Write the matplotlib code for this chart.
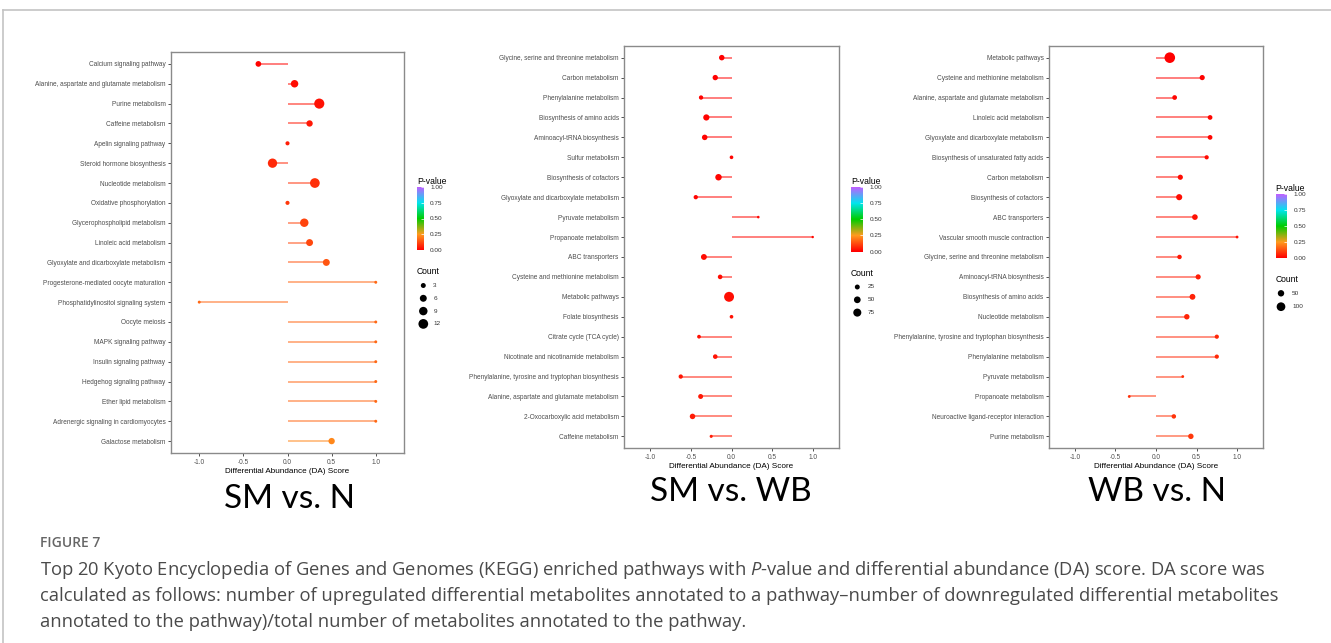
"""KEGG enrichment lollipop panels (DA score vs pathway)."""
import numpy as np
import matplotlib
matplotlib.use('Agg')
import matplotlib.pyplot as plt
from matplotlib.colors import LinearSegmentedColormap, Normalize
from matplotlib.cm import ScalarMappable
from matplotlib.lines import Line2D

plt.rcParams['font.family'] = ['Liberation Sans', 'DejaVu Sans']
plt.rcParams['mathtext.fontset'] = 'custom'
plt.rcParams['mathtext.it'] = 'Open Sans:italic'
plt.rcParams['mathtext.rm'] = 'Open Sans'

DPI = 100
W, H = 1331, 643

# ---- SM vs. N ----
sm_n_paths = ['Calcium signaling pathway', 'Alanine, aspartate and glutamate metabolism',
              'Purine metabolism', 'Caffeine metabolism', 'Apelin signaling pathway',
              'Steroid hormone biosynthesis', 'Nucleotide metabolism',
              'Oxidative phosphorylation', 'Glycerophospholipid metabolism',
              'Linoleic acid metabolism', 'Glyoxylate and dicarboxylate metabolism',
              'Progesterone-mediated oocyte maturation', 'Phosphatidylinositol signaling system',
              'Oocyte meiosis', 'MAPK signaling pathway', 'Insulin signaling pathway',
              'Hedgehog signaling pathway', 'Ether lipid metabolism',
              'Adrenergic signaling in cardiomyocytes', 'Galactose metabolism']
sm_n_da = [-0.33, 0.08, 0.36, 0.25, 0.0, -0.17, 0.31, 0.0, 0.19, 0.25,
           0.44, 1.0, -1.0, 1.0, 1.0, 1.0, 1.0, 1.0, 1.0, 0.5]
sm_n_count = [4, 7, 13, 5, 2, 11, 12, 2, 9, 6, 6, 1, 1, 1, 1, 1, 1, 1, 1, 5]
sm_n_p = [0.005, 0.02, 0.03, 0.04, 0.05, 0.07, 0.08, 0.09, 0.11, 0.12,
          0.14, 0.17, 0.17, 0.17, 0.17, 0.17, 0.17, 0.17, 0.17, 0.22]
sm_n_keys = [3, 6, 9, 12]

# ---- SM vs. WB ----
sm_wb_paths = ['Glycine, serine and threonine metabolism', 'Carbon metabolism',
               'Phenylalanine metabolism', 'Biosynthesis of amino acids',
               'Aminoacyl-tRNA biosynthesis', 'Sulfur metabolism', 'Biosynthesis of cofactors',
               'Glyoxylate and dicarboxylate metabolism', 'Pyruvate metabolism',
               'Propanoate metabolism', 'ABC transporters', 'Cysteine and methionine metabolism',
               'Metabolic pathways', 'Folate biosynthesis', 'Citrate cycle (TCA cycle)',
               'Nicotinate and nicotinamide metabolism',
               'Phenylalanine, tyrosine and tryptophan biosynthesis',
               'Alanine, aspartate and glutamate metabolism', '2-Oxocarboxylic acid metabolism',
               'Caffeine metabolism']
sm_wb_da = [-0.12, -0.2, -0.375, -0.31, -0.33, 0.0, -0.16, -0.44, 0.33, 1.0,
            -0.34, -0.14, -0.03, 0.0, -0.4, -0.2, -0.625, -0.38, -0.48, -0.25]
sm_wb_count = [32, 30, 18, 42, 32, 12, 46, 18, 5, 4, 37, 21, 118, 12, 13, 21, 18, 25, 32, 8]
sm_wb_p = [0.001, 0.002, 0.004, 0.005, 0.006, 0.008, 0.009, 0.01, 0.012, 0.015,
           0.02, 0.022, 0.025, 0.028, 0.03, 0.033, 0.036, 0.04, 0.045, 0.05]
sm_wb_keys = [25, 50, 75]

# ---- WB vs. N ----
wb_n_paths = ['Metabolic pathways', 'Cysteine and methionine metabolism',
              'Alanine, aspartate and glutamate metabolism', 'Linoleic acid metabolism',
              'Glyoxylate and dicarboxylate metabolism', 'Biosynthesis of unsaturated fatty acids',
              'Carbon metabolism', 'Biosynthesis of cofactors', 'ABC transporters',
              'Vascular smooth muscle contraction', 'Glycine, serine and threonine metabolism',
              'Aminoacyl-tRNA biosynthesis', 'Biosynthesis of amino acids',
              'Nucleotide metabolism', 'Phenylalanine, tyrosine and tryptophan biosynthesis',
              'Phenylalanine metabolism', 'Pyruvate metabolism', 'Propanoate metabolism',
              'Neuroactive ligand-receptor interaction', 'Purine metabolism']
wb_n_da = [0.17, 0.57, 0.23, 0.667, 0.667, 0.625, 0.3, 0.286, 0.48, 1.0,
           0.29, 0.52, 0.45, 0.38, 0.75, 0.75, 0.33, -0.33, 0.22, 0.43]
wb_n_count = [155, 30, 24, 24, 24, 18, 30, 45, 37, 6, 21, 30, 40, 34, 18, 18, 6, 6, 21, 34]
wb_n_p = [0.001, 0.005, 0.01, 0.012, 0.014, 0.016, 0.02, 0.025, 0.03, 0.035,
          0.04, 0.05, 0.055, 0.06, 0.065, 0.07, 0.075, 0.08, 0.085, 0.09]
wb_n_keys = [50, 100]

cb_ticks = [0.0, 0.25, 0.5, 0.75, 1.0]
x_ticks = [-1.0, -0.5, 0.0, 0.5, 1.0]

pcmap = LinearSegmentedColormap.from_list('pval', [
    (0.0, '#FF0000'), (0.25, '#FF9A1E'), (0.5, '#00CC00'),
    (0.75, '#00E5EE'), (1.0, '#BF5FFF')])
norm = Normalize(0, 1)


def dot_area(count, a, b):
    d_px = a + b * np.sqrt(np.asarray(count, float))
    return (d_px * 72 / DPI) ** 2


def fbox(l, t, r, b):
    return [l / W, 1 - b / H, (r - l) / W, (b - t) / H]


PANELS = [
    dict(title='SM vs. N', paths=sm_n_paths, da=sm_n_da, count=sm_n_count, p=sm_n_p,
         keys=sm_n_keys, size=(0.2, 2.75), ax_px=(171, 52, 404, 453),
         cb_px=(417, 187, 424, 250), cnt_px=(417, 265, (6.3, 16.3), 13.5, 12.8),
         title_xy=(289, 499)),
    dict(title='SM vs. WB', paths=sm_wb_paths, da=sm_wb_da, count=sm_wb_count, p=sm_wb_p,
         keys=sm_wb_keys, size=(0.7, 0.85), ax_px=(624.3, 45.7, 838.7, 448.3),
         cb_px=(851, 187, 863, 251.5), cnt_px=(851, 266, (6.3, 17), 14, 12.8),
         title_xy=(731, 492)),
    dict(title='WB vs. N', paths=wb_n_paths, da=wb_n_da, count=wb_n_count, p=wb_n_p,
         keys=wb_n_keys, size=(0.9, 0.78), ax_px=(1049, 45.7, 1263, 448.3),
         cb_px=(1275.7, 194, 1287.3, 258), cnt_px=(1275.7, 272, (5.3, 16.3), 14.3, 13.4),
         title_xy=(1157, 492)),
]

fig = plt.figure(figsize=(W / DPI, H / DPI), dpi=DPI)

for pn in PANELS:
    ax = fig.add_axes(fbox(*pn['ax_px']))
    n = len(pn['paths'])
    y = np.arange(n)[::-1] + 1
    cols = pcmap(norm(pn['p']))
    ax.hlines(y, 0, pn['da'], colors=cols, alpha=0.55, lw=1.3, zorder=2)
    ax.scatter(pn['da'], y, s=dot_area(pn['count'], *pn['size']), c=cols,
               edgecolors='none', zorder=3)
    ax.set_xlim(-1.32, 1.32)
    ax.set_ylim(0.4, n + 0.6)
    ax.set_yticks(y)
    ax.set_yticklabels(pn['paths'])
    ax.set_xticks(x_ticks)
    ax.set_xticklabels(['%.1f' % v for v in x_ticks])
    ax.tick_params(labelsize=4.7, labelcolor='#4d4d4d', length=2.5, width=0.6,
                   color='#333333', pad=1.5)
    ax.set_xlabel('Differential Abundance (DA) Score', fontsize=5.9, labelpad=1.5)
    for sp in ax.spines.values():
        sp.set_color('#8a8a8a')
        sp.set_linewidth(1.0)

    # colour bar
    cax = fig.add_axes(fbox(*pn['cb_px']))
    cb = fig.colorbar(ScalarMappable(norm=norm, cmap=pcmap), cax=cax, ticks=cb_ticks)
    cb.set_ticklabels(['%.2f' % v for v in cb_ticks])
    cb.outline.set_visible(False)
    cax.tick_params(labelsize=4.6, labelcolor='#333333', length=2, width=0.5,
                    color='white', direction='in', pad=4.5)
    cax.set_title('P-value', fontsize=6.2, loc='left', pad=2.5)

    # count legend
    lx, ly, (dx, tx), first, pitch = pn['cnt_px']
    lax = fig.add_axes(fbox(lx, ly, lx + 40, ly + 75))
    lax.set_xlim(0, 40)
    lax.set_ylim(75, 0)
    lax.axis('off')
    lax.text(0, 7, 'Count', fontsize=6.2, va='center', ha='left')
    ky = 7 + first + pitch * np.arange(len(pn['keys']))
    lax.scatter(np.full(len(ky), dx), ky, s=dot_area(pn['keys'], *pn['size']),
                c='black', edgecolors='none', clip_on=False)
    for yy, k in zip(ky, pn['keys']):
        lax.text(tx, yy, str(k), fontsize=4.6, va='center', ha='left', color='#333333')

    tx_, ty_ = pn['title_xy']
    fig.text(tx_ / W, 1 - ty_ / H, pn['title'], fontsize=24, family='Lato',
             ha='center', va='center')

# frame around the figure
fig.add_artist(Line2D([3 / W, 1], [1 - 10 / H, 1 - 10 / H], transform=fig.transFigure,
                      color='#c4c4c4', lw=1.2))
fig.add_artist(Line2D([3 / W, 3 / W], [0, 1 - 10 / H], transform=fig.transFigure,
                      color='#c4c4c4', lw=1.2))

fig.text(40 / W, 1 - 543 / H, 'FIGURE 7', fontsize=10, family='Open Sans',
         weight='semibold', color='#666666', va='center')
caption = [
    r'Top 20 Kyoto Encyclopedia of Genes and Genomes (KEGG) enriched pathways with $\it{P}$'
    r'-value and differential abundance (DA) score. DA score was',
    'calculated as follows: number of upregulated differential metabolites annotated to a '
    'pathway\u2013number of downregulated differential metabolites',
    'annotated to the pathway)/total number of metabolites annotated to the pathway.',
]
for i, line in enumerate(caption):
    fig.text(40 / W, 1 - (570 + 26 * i) / H, line, fontsize=13.2, family='Open Sans',
             color='#4a4a4a', va='center')

fig.savefig('out.png', dpi=DPI)
